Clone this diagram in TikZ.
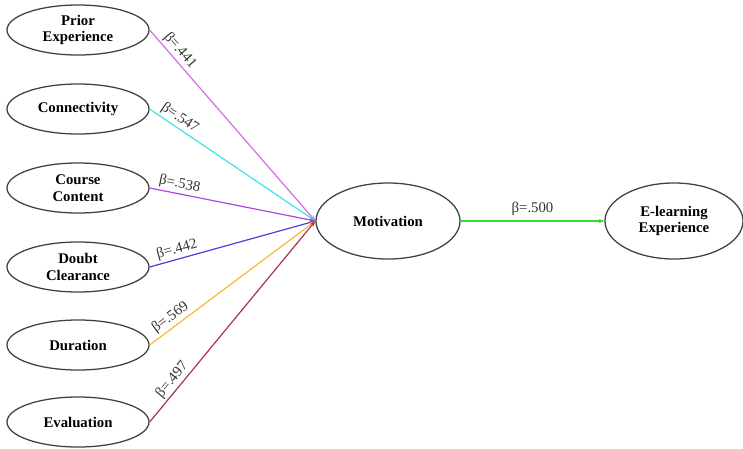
\documentclass[tikz,border=0pt]{standalone}
\usepackage{fontspec}
\setmainfont{Liberation Serif}
\usetikzlibrary{arrows.meta,shapes.geometric}
\definecolor{cPrior}{HTML}{D36FE6}
\definecolor{cConn}{HTML}{3FE3E3}
\definecolor{cCourse}{HTML}{A748E6}
\definecolor{cDoubt}{HTML}{4A3FD6}
\definecolor{cDur}{HTML}{FFB43C}
\definecolor{cEval}{HTML}{A8344A}
\definecolor{cMot}{HTML}{2EE02E}
\begin{document}
\begin{tikzpicture}[x=0.025cm, y=-0.025cm,
  factor/.style={draw=black!75, line width=0.9pt, ellipse, minimum width=3.55cm, minimum height=1.25cm, inner sep=0pt, align=center, font=\fontsize{10.5}{12}\selectfont\bfseries},
  bigfactor/.style={factor, minimum height=1.9cm},
  link/.style={line width=0.85pt, -{Stealth[length=4pt,width=3pt]}},
  beta/.style={font=\fontsize{10.5}{11}\selectfont, text=black!80, sloped, above, inner sep=1.5pt}]
\useasboundingbox (0,0) rectangle (743,448);
% outer factors
\node[factor] (prior) at (78,30) {Prior\\Experience};
\node[factor] (conn) at (78,109) {Connectivity};
\node[factor] (course) at (78,188) {Course\\Content};
\node[factor] (doubt) at (78,267) {Doubt\\Clearance};
\node[factor] (dur) at (78,345) {Duration};
\node[factor] (eval) at (78,422) {Evaluation};
% mediator and outcome
\node[bigfactor, minimum width=3.6cm] (mot) at (388,221) {Motivation};
\node[bigfactor, minimum width=3.45cm] (elearn) at (674,221) {E-learning\\Experience};
% paths
\draw[link, cPrior] (prior.east) -- node[beta, pos=0.14] {β=.441} (mot.west);
\draw[link, cConn] (conn.east) -- node[beta, pos=0.15] {β=.547} (mot.west);
\draw[link, cCourse] (course.east) -- node[beta, pos=0.17] {β=.538} (mot.west);
\draw[link, cDoubt] (doubt.east) -- node[beta, pos=0.18] {β=.442} (mot.west);
\draw[link, cDur] (dur.east) -- node[beta, pos=0.16] {β=.569} (mot.west);
\draw[link, cEval] (eval.east) -- node[beta, pos=0.18] {β=.497} (mot.west);
\draw[link, cMot] (mot.east) -- node[beta, pos=0.5, yshift=2pt] {β=.500} (elearn.west);
\end{tikzpicture}
\end{document}
